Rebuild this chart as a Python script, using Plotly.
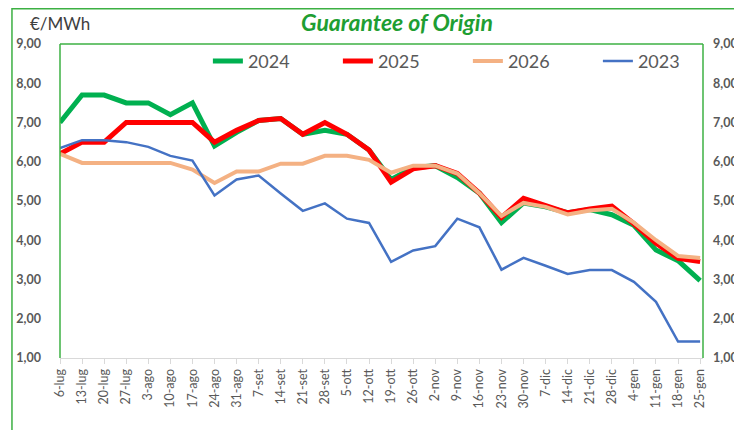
import plotly.graph_objects as go

categories = ["6-lug", "13-lug", "20-lug", "27-lug", "3-ago", "10-ago", "17-ago", "24-ago",
              "31-ago", "7-set", "14-set", "21-set", "28-set", "5-ott", "12-ott", "19-ott",
              "26-ott", "2-nov", "9-nov", "16-nov", "23-nov", "30-nov", "7-dic", "14-dic",
              "21-dic", "28-dic", "4-gen", "11-gen", "18-gen", "25-gen"]

y2024 = [7.0, 7.7, 7.7, 7.5, 7.5, 7.2, 7.5, 6.4, 6.75, 7.05, 7.1, 6.7, 6.8, 6.7, 6.3, 5.55,
         5.85, 5.9, 5.6, 5.2, 4.45, 4.95, 4.85, 4.7, 4.78, 4.65, 4.38, 3.75, 3.48, 2.97]
y2025 = [6.2, 6.5, 6.5, 7.0, 7.0, 7.0, 7.0, 6.5, 6.8, 7.05, 7.1, 6.7, 7.0, 6.7, 6.3, 5.48,
         5.82, 5.9, 5.7, 5.2, 4.58, 5.07, 4.9, 4.7, 4.8, 4.87, 4.42, 3.92, 3.54, 3.46]
y2026 = [6.2, 5.97, 5.97, 5.97, 5.97, 5.97, 5.8, 5.46, 5.75, 5.75, 5.95, 5.95, 6.15, 6.15, 6.05, 5.72,
         5.9, 5.9, 5.7, 5.2, 4.62, 4.95, 4.85, 4.66, 4.76, 4.8, 4.45, 4.0, 3.6, 3.55]
y2023 = [6.35, 6.55, 6.55, 6.5, 6.38, 6.15, 6.03, 5.14, 5.55, 5.65, 5.19, 4.75, 4.94, 4.55, 4.44, 3.45,
         3.74, 3.85, 4.55, 4.33, 3.25, 3.55, 3.35, 3.14, 3.24, 3.24, 2.94, 2.43, 1.42, 1.42]

series = [("2024", y2024, "#00b050", 5),
          ("2025", y2025, "#ff0000", 5),
          ("2026", y2026, "#f4b183", 4),
          ("2023", y2023, "#4472c4", 2.5)]

yticks = [1, 2, 3, 4, 5, 6, 7, 8, 9]

FONT = "Lato, Open Sans, sans-serif"

fig = go.Figure()
for name, vals, color, w in series:
    fig.add_trace(go.Scatter(x=categories, y=vals, name=name, mode="lines",
                             line=dict(color=color, width=w)))
# invisible trace for right axis
fig.add_trace(go.Scatter(x=categories, y=y2023, yaxis="y2", mode="lines",
                         line=dict(width=0), showlegend=False, hoverinfo="skip", opacity=0))

tickfont = dict(family=FONT, size=12.5, color="#595959", weight="bold")

fig.update_layout(
    width=734, height=422,
    margin=dict(l=52, r=39, t=36, b=72),
    paper_bgcolor="white", plot_bgcolor="white",
    separators=",.",
    showlegend=True,
    legend=dict(orientation="h", x=0.23, y=0.945, xanchor="left", yanchor="middle",
                font=dict(family=FONT, size=18, color="#595959"),
                entrywidth=85, entrywidthmode="pixels", bgcolor="rgba(0,0,0,0)",
                tracegroupgap=0),
    xaxis=dict(type="category", range=[0, 29.13], showgrid=False, tickangle=-90,
               tickfont=dict(family=FONT, size=12.5, color="#595959"),
               ticks="outside", ticklen=5, tickcolor="#d9d9d9", automargin=False,
               showline=True, linecolor="#d9d9d9", linewidth=1, zeroline=False),
    yaxis=dict(range=[1, 9], tickvals=yticks, tickformat=".2f", showgrid=False, automargin=False,
               zeroline=False, showline=False, tickfont=tickfont, ticklabelstandoff=18),
    yaxis2=dict(range=[1, 9], tickvals=yticks, tickformat=".2f", showgrid=False, automargin=False,
                zeroline=False, showline=False, tickfont=tickfont, overlaying="y",
                side="right", ticklabelstandoff=9),
    shapes=[
        dict(type="line", xref="paper", yref="paper", x0=0, x1=1, y0=1, y1=1,
             line=dict(color="#3cb043", width=1.5)),
        dict(type="line", xref="paper", yref="paper", x0=0, x1=0, y0=0, y1=1,
             line=dict(color="#3cb043", width=1.5)),
        dict(type="line", xref="paper", yref="paper", x0=1, x1=1, y0=0, y1=1,
             line=dict(color="#3cb043", width=1.5)),
        # outer chart border
        dict(type="rect", xref="paper", yref="paper", x0=-0.0747, x1=1.2, y0=-0.4, y1=1.112,
             line=dict(color="#3cb043", width=1.5), layer="below"),
    ],
    annotations=[
        dict(text="<b><i>Guarantee of Origin</i></b>", xref="paper", yref="paper",
             x=0.524, y=1.07, xanchor="center", yanchor="middle", showarrow=False,
             font=dict(family=FONT, size=23, color="#1e9e32")),
        dict(text="€/MWh", xref="paper", yref="paper", x=-0.05, y=1.064,
             xanchor="left", yanchor="middle", showarrow=False,
             font=dict(family=FONT, size=17, color="#404040")),
    ],
)

fig.write_html("out.html")
